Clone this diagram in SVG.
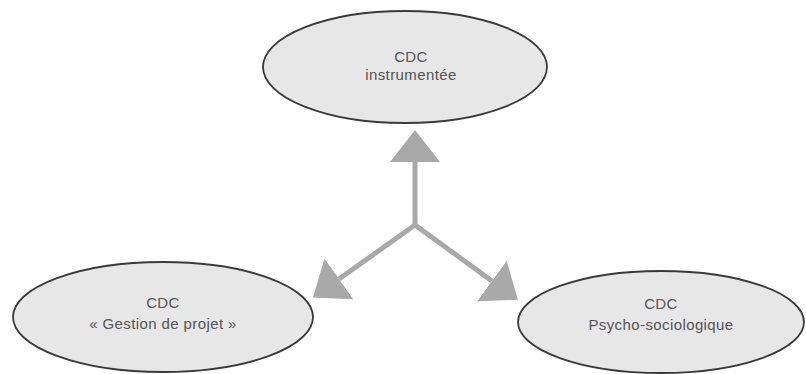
<svg xmlns="http://www.w3.org/2000/svg" width="806" height="374" viewBox="0 0 806 374">
  <style>
    .node ellipse { fill: #e7e7e7; stroke: #3a3a3a; stroke-width: 1.8; }
    .node text { font-family: "Liberation Sans", Arial, sans-serif; font-size: 15px; letter-spacing: 0.4px; fill: #555555; text-anchor: middle; }
    .edge { stroke: #a9a9a9; stroke-width: 5; fill: none; }
  </style>
  <defs>
    <marker id="head" markerUnits="userSpaceOnUse" viewBox="0 0 32 50" markerWidth="32" markerHeight="50" refX="0" refY="25" orient="auto">
      <path d="M0,0 L32,25 L0,50 z" fill="#a9a9a9"/>
    </marker>
  </defs>

  <!-- top node -->
  <g id="node-instrumentee" class="node">
    <ellipse cx="405" cy="67" rx="142" ry="56"/>
    <text x="411" y="62">CDC</text>
    <text x="411" y="80">instrumentée</text>
  </g>

  <!-- lower left node -->
  <g id="node-gestion" class="node">
    <ellipse cx="163" cy="317" rx="150" ry="55"/>
    <text x="163" y="308">CDC</text>
    <text x="163" y="329">« Gestion de projet »</text>
  </g>

  <!-- lower right node -->
  <g id="node-psycho" class="node">
    <ellipse cx="661" cy="322" rx="143" ry="51"/>
    <text x="661" y="309">CDC</text>
    <text x="661" y="330">Psycho-sociologique</text>
  </g>

  <!-- three arrows fanning out from a common junction -->
  <g id="connectors">
    <line class="edge" x1="415" y1="226" x2="415" y2="162" marker-end="url(#head)"/>
    <line class="edge" x1="415" y1="225" x2="339" y2="279" marker-end="url(#head)"/>
    <line class="edge" x1="415" y1="225" x2="492" y2="281" marker-end="url(#head)"/>
  </g>
</svg>
